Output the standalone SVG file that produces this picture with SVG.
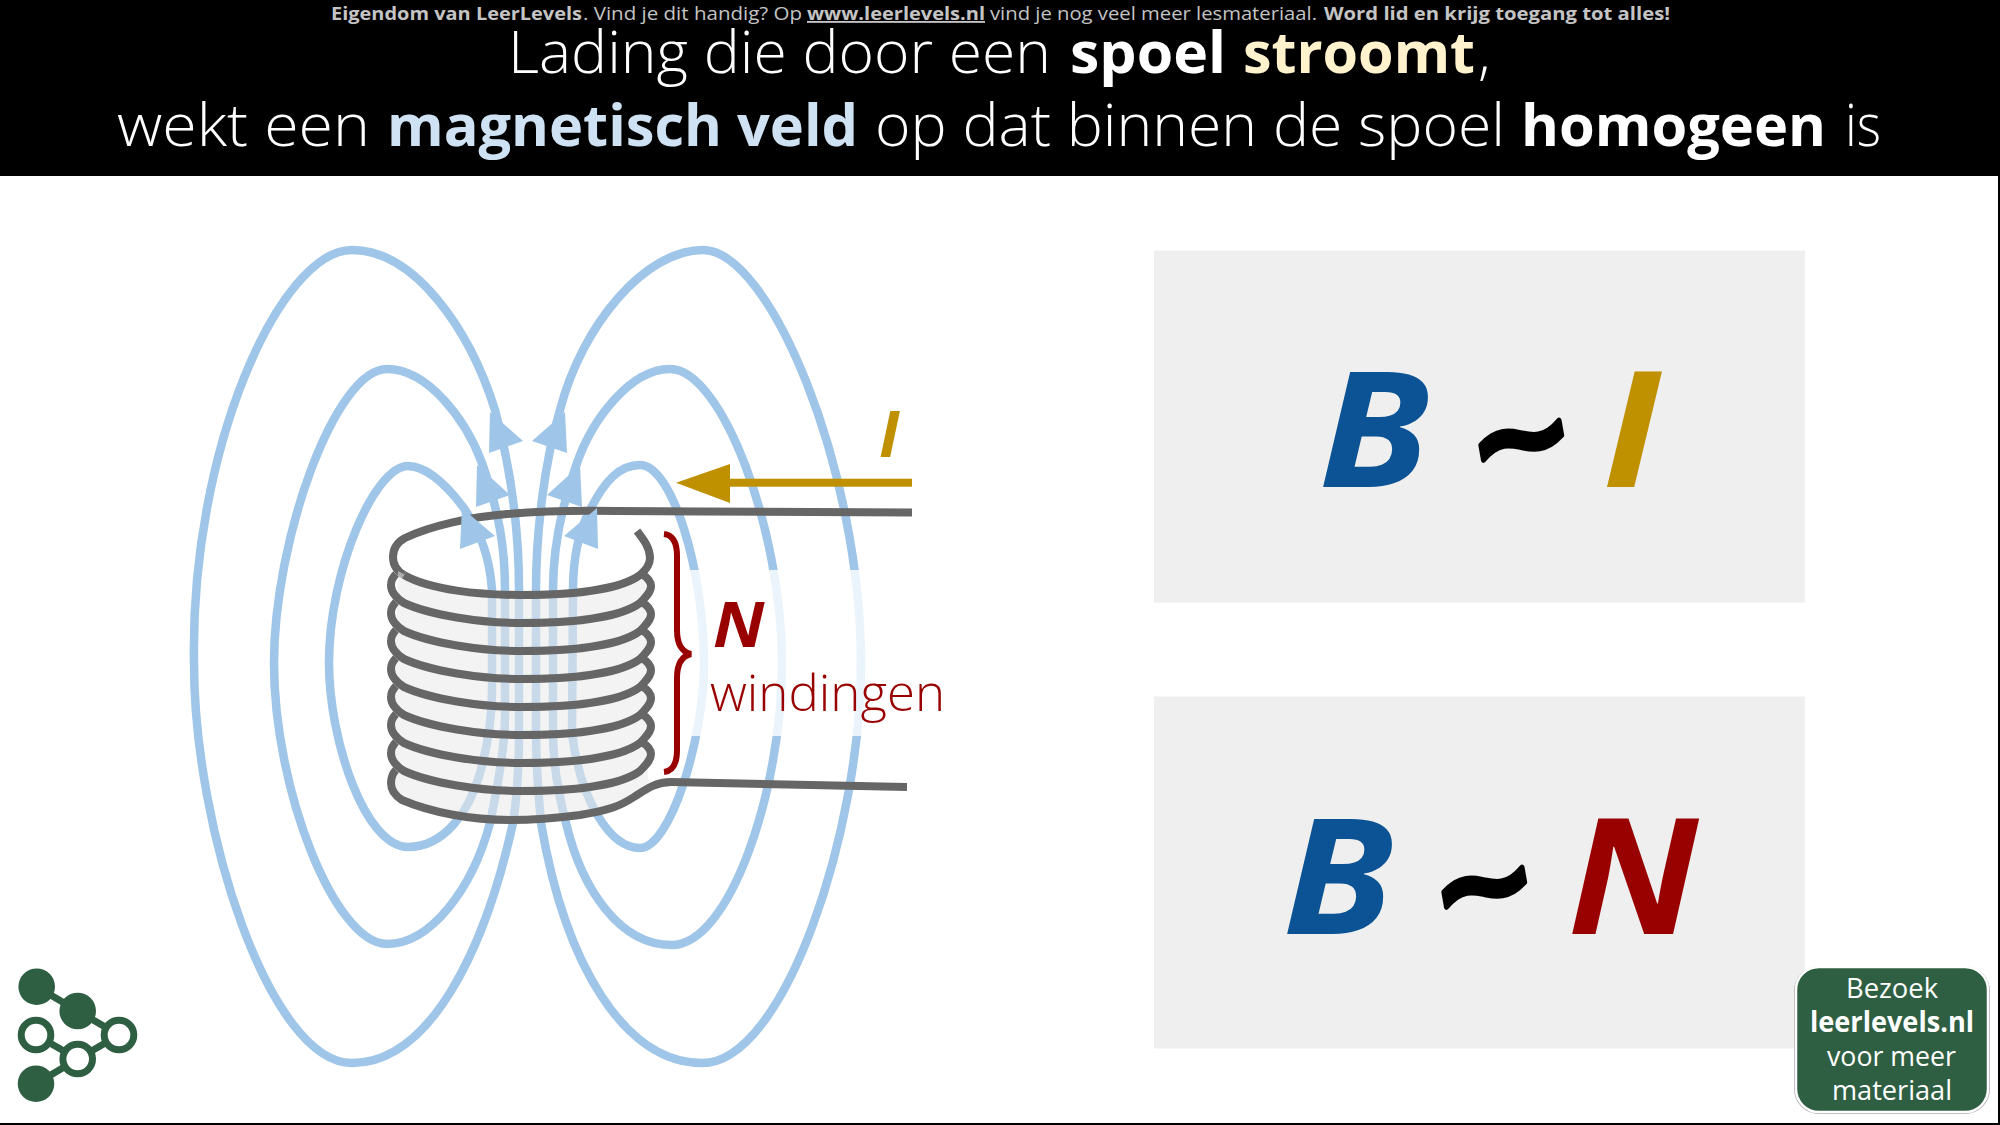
<svg xmlns="http://www.w3.org/2000/svg" xmlns:xlink="http://www.w3.org/1999/xlink" width="2000" height="1125" viewBox="0 0 2000 1125">
<style>
text{font-family:"Open Sans","Noto Sans","Liberation Sans",sans-serif}
.ti{font-size:58px;font-weight:350;fill:#fff}
.tb{font-size:58px;font-weight:700;fill:#fff}
.su{font-size:18.5px;font-weight:400;fill:#c4c4c4}
.sb{font-size:18.5px;font-weight:700;fill:#c4c4c4}
.f{font-size:162px;font-weight:700;font-style:italic}
.t{font-family:"DejaVu Sans",sans-serif;font-size:130px;font-weight:700;font-style:oblique;fill:#000;stroke:#000;stroke-width:5;stroke-linejoin:round}
.fl{fill:none;stroke:#9fc5e8;stroke-width:8.5}
.ar{fill:#9fc5e8}
.w{fill:none;stroke:#666;stroke-width:8;stroke-linejoin:round}
.g{fill:#2f5f43}
.r{fill:#fff;stroke:#2f5f43;stroke-width:7}
.bt{font-size:28px;fill:#fff;text-anchor:start}
</style>
<defs>
<path id="wind" d="M396,574C392,578 391,582 391,585C391,592 396,598 404,603C430,615 480,623 521,623C570,623 620,618 640,603C646,597 651,592 651,586C651,582 647,577 643,575"/>
</defs>
<rect width="2000" height="1125" fill="#fff"/>
<g id="header">
<rect width="2000" height="176" fill="#000"/>
<text class="sb" x="331" y="20" textLength="251" lengthAdjust="spacingAndGlyphs">Eigendom van LeerLevels</text>
<text class="su" x="583" y="20" textLength="219" lengthAdjust="spacingAndGlyphs">. Vind je dit handig? Op</text>
<text class="sb" x="807" y="20" textLength="178" lengthAdjust="spacingAndGlyphs" text-decoration="underline">www.leerlevels.nl</text>
<text class="su" x="990" y="20" textLength="327" lengthAdjust="spacingAndGlyphs">vind je nog veel meer lesmateriaal.</text>
<text class="sb" x="1324" y="20" textLength="346" lengthAdjust="spacingAndGlyphs">Word lid en krijg toegang tot alles!</text>
<text y="73"><tspan class="ti" x="508" textLength="543" lengthAdjust="spacingAndGlyphs">Lading die door een</tspan><tspan class="tb" x="1070" textLength="156" lengthAdjust="spacingAndGlyphs">spoel</tspan><tspan class="tb" x="1243" textLength="232" lengthAdjust="spacingAndGlyphs" style="fill:#fff2cc">stroomt</tspan><tspan class="ti" x="1478">,</tspan></text>
<text y="146"><tspan class="ti" x="117" textLength="253" lengthAdjust="spacingAndGlyphs">wekt een</tspan><tspan class="tb" x="387" textLength="471" lengthAdjust="spacingAndGlyphs" style="fill:#cfe2f3">magnetisch veld</tspan><tspan class="ti" x="875" textLength="630" lengthAdjust="spacingAndGlyphs">op dat binnen de spoel</tspan><tspan class="tb" x="1521" textLength="305" lengthAdjust="spacingAndGlyphs">homogeen</tspan><tspan class="ti" x="1845" textLength="36" lengthAdjust="spacingAndGlyphs">is</tspan></text>
</g>
<g id="panel-bi">
<rect x="1154" y="250.5" width="651" height="352" fill="#efefef"/>
<text class="f" transform="translate(1318.5 487) scale(1.106 1)" fill="#0b5394">B</text>
<text class="t" x="1466" y="481" transform="rotate(-10 1520 436)">~</text>
<text class="f" transform="translate(1602.4 487) scale(1.125 1)" fill="#bf9000">I</text>
</g>
<g id="panel-bn">
<rect x="1154" y="696.5" width="651" height="352" fill="#efefef"/>
<text class="f" transform="translate(1282.5 934) scale(1.106 1)" fill="#0b5394">B</text>
<text class="t" x="1429" y="928" transform="rotate(-10 1483 883)">~</text>
<text class="f" transform="translate(1567.7 934) scale(1.068 1)" fill="#990000">N</text>
</g>
<g id="field-lines">
<path class="fl" d="M519,590C519,540 514,480 495,410C470,330 415,250 352,250C280,250 190,450 194,663C194,830 270,1063 352,1063C430,1063 485,950 513,823C518,790 519,760 519,733Z"/>
<path class="fl" d="M505,590C505,550 500,515 482,463C466,420 428,369 387,369C335,369 274,540 274,663C274,790 335,944 387,944C430,944 472,890 490,823C497,790 505,750 505,717Z"/>
<path class="fl" d="M492,590C490,560 480,530 463,507C445,483 425,466 408,466C375,466 329,570 329,663C329,740 365,847 408,847C445,847 470,810 480,773C488,745 492,720 492,690Z"/>
<path class="fl" d="M536,590C536,530 545,460 560,410C582,325 645,250 703,250C770,250 861,470 861,663C861,830 785,1063 702,1063C625,1063 565,965 541,823C538,790 536,760 536,733Z"/>
<path class="fl" d="M553,590C553,550 560,510 577,463C592,420 630,369 670,369C722,369 782,530 782,663C782,790 730,945 671.5,945C620,945 582,890 566,823C556,785 553,760 553,733Z"/>
<path class="fl" d="M573,590C573,550 582,525 590,510C605,480 620,465 640,465C672,465 704,570 704,663C704,740 670,848 640,848C610,848 580,800 572,733Z"/>
</g>
<path class="w" d="M618,511C570,510 530,512 507,514C470,517 430,526 405,538C396,543 393,550 393,557C393,566 397,571 404,575"/>
<g id="arrowheads">
<polygon class="ar" points="490,412 523,441 489,453"/>
<polygon class="ar" points="477,465 510,495 476,507"/>
<polygon class="ar" points="462,508 495,536 460,549"/>
<polygon class="ar" points="565,412 532,441 567,453"/>
<polygon class="ar" points="580,465 547,495 582,507"/>
<polygon class="ar" points="597,508 564,536 598,549"/>
</g>
<rect x="685" y="570" width="260" height="166" fill="#fff" opacity=".8"/>
<g id="coil">
<path d="M398,571C430,590 480,595 521,595C570,595 620,590 645,570L648,785C640,795 625,805 618,807C600,813 550,820 510,820C470,820 430,812 402,800C394,795 391,790 391,783Z" fill="#e9e9e9" opacity=".55"/>
<path class="w" d="M404,575C430,590 480,595 521,595C570,595 620,590 640,575C646,570 650,564 650,558C650,548 644,540 637,531"/>
<use xlink:href="#wind" href="#wind" class="w"/>
<use xlink:href="#wind" href="#wind" class="w" y="28"/>
<use xlink:href="#wind" href="#wind" class="w" y="56"/>
<use xlink:href="#wind" href="#wind" class="w" y="84"/>
<use xlink:href="#wind" href="#wind" class="w" y="112"/>
<use xlink:href="#wind" href="#wind" class="w" y="140"/>
<use xlink:href="#wind" href="#wind" class="w" y="168"/>
<path class="w" d="M907,787L671,782C655,782 645,790 634,797C620,806 610,810 580,815C550,819 530,820 510,820C470,820 430,812 402,800C394,795 391,790 391,783C391,778 393,773 396,770"/>
<path class="w" d="M912,512.5L700,511.5L618,511"/>
</g>
<g id="current">
<polygon points="676,482.7 730,464 730,503" fill="#bf9000"/>
<rect x="728" y="478.7" width="184" height="8" fill="#bf9000"/>
<text x="879" y="457" font-size="64" font-weight="700" font-style="italic" fill="#bf9000">I</text>
</g>
<g id="windings-label">
<path d="M664,534C673,535 677,543 677,556L677,630C677,645 682,652 691,654C682,656 677,663 677,678L677,750C677,763 673,771 664,772" fill="none" stroke="#900" stroke-width="6"/>
<text transform="translate(713 647) scale(1.08 1)" font-size="63" font-weight="700" font-style="italic" fill="#900">N</text>
<text x="710" y="711" font-size="50" font-weight="350" fill="#900" textLength="235" lengthAdjust="spacingAndGlyphs">windingen</text>
</g>
<g id="logo">
<g stroke="#2f5f43" stroke-width="7" fill="none"><path d="M36.7,986.7L77.7,1011L119,1035L77.7,1059L36,1035M77.7,1059L36,1083.7"/></g>
<circle class="g" cx="36.7" cy="986.7" r="18.3"/>
<circle class="g" cx="77.7" cy="1011" r="18.3"/>
<circle class="g" cx="36" cy="1083.7" r="18.3"/>
<circle class="r" cx="36" cy="1035" r="14.8"/>
<circle class="r" cx="119" cy="1035" r="14.8"/>
<circle class="r" cx="77.7" cy="1059" r="14.8"/>
</g>
<g id="badge">
<rect x="1794" y="966" width="196" height="148" rx="25" fill="#aaa"/>
<rect x="1796" y="967" width="192" height="145" rx="23" fill="#2f5f43" stroke="#fff" stroke-width="2.5"/>
<text class="bt" x="1846" y="998" textLength="92" lengthAdjust="spacingAndGlyphs">Bezoek</text>
<text class="bt" x="1810" y="1032" font-weight="700" textLength="164" lengthAdjust="spacingAndGlyphs">leerlevels.nl</text>
<text class="bt" x="1827" y="1066" textLength="129" lengthAdjust="spacingAndGlyphs">voor meer</text>
<text class="bt" x="1832" y="1100" textLength="120" lengthAdjust="spacingAndGlyphs">materiaal</text>
</g>
<g id="frame">
<rect x="1998" y="176" width="2" height="949" fill="#000"/>
<rect x="0" y="1123" width="2000" height="2" fill="#000"/>
</g>
</svg>
